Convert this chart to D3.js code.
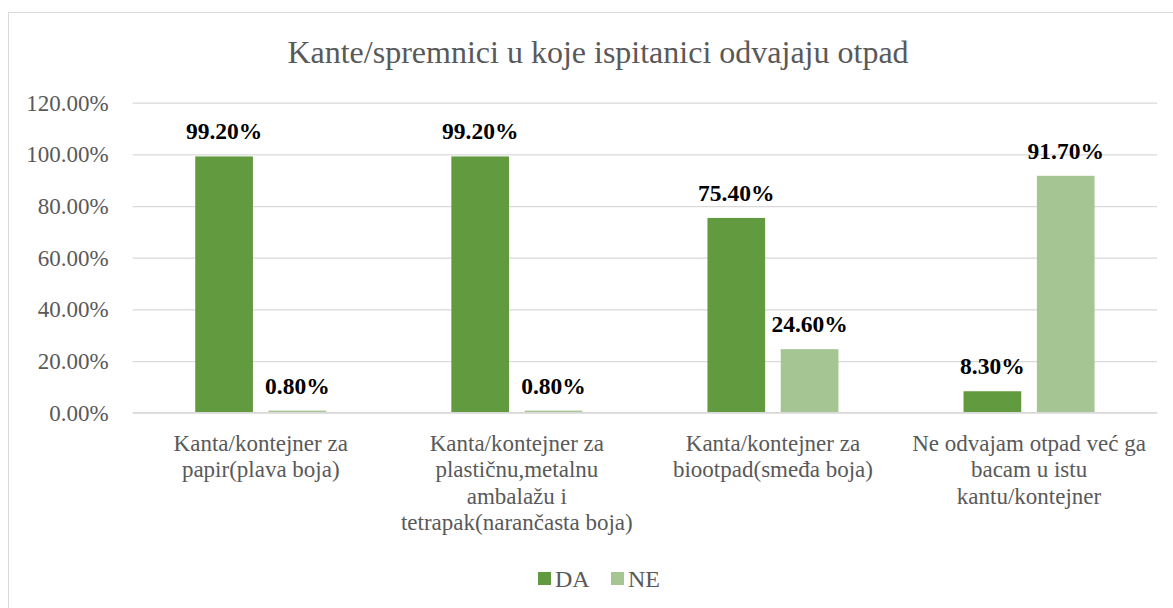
<!DOCTYPE html>
<html>
<head>
<meta charset="utf-8">
<script src="https://cdn.jsdelivr.net/npm/d3@7"></script>
</head>
<body style="margin:0; background:#fff">
<div id="chart"></div>
<script>
// data
const categories = [
  "Kanta/kontejner za\npapir(plava boja)",
  "Kanta/kontejner za\nplastičnu,metalnu\nambalažu i\ntetrapak(narančasta boja)",
  "Kanta/kontejner za\nbiootpad(smeđa boja)",
  "Ne odvajam otpad već ga\nbacam u istu\nkantu/kontejner"
]
const seriesNames = ["DA", "NE"]
const daValues = [99.2, 99.2, 75.4, 8.3]
const neValues = [0.8, 0.8, 24.6, 91.7]
const yTicks = [0, 20, 40, 60, 80, 100, 120]
const colors = ["#629a3f", "#a5c592"]

const FONT = "Liberation Serif"
const width = 1173, height = 608
const plot = { left: 132.7, right: 1157.1, top: 102.7, bottom: 412.7 }

const svg = d3.select("#chart").append("svg")
    .attr("width", width)
    .attr("height", height)

// outer frame (runs off the right/bottom edge like the source)
svg.append("rect")
    .attr("x", 8.5).attr("y", 12.5)
    .attr("width", 1200).attr("height", 640)
    .attr("fill", "#fff")
    .attr("stroke", "#d9d9d9")
    .attr("stroke-width", 1)

svg.append("text")
    .attr("x", 598).attr("y", 63)
    .attr("text-anchor", "middle")
    .style("font-family", FONT)
    .style("font-size", "32px")
    .style("fill", "#595959")
    .text("Kante/spremnici u koje ispitanici odvajaju otpad")

const y = d3.scaleLinear().domain([0, 120]).range([plot.bottom, plot.top])
const x0 = d3.scaleBand().domain(d3.range(categories.length)).range([plot.left, plot.right])
const x1 = d3.scaleBand().domain(seriesNames).range([0, x0.bandwidth()])
    .paddingInner(0.213).paddingOuter(0.853)

// gridlines + y labels
const yAxis = svg.append("g")
    .attr("transform", `translate(${plot.left},0)`)
    .call(d3.axisLeft(y).tickValues(yTicks)
        .tickSize(-(plot.right - plot.left))
        .tickPadding(24)
        .tickFormat(d => d.toFixed(2) + "%"))
yAxis.select(".domain").remove()
yAxis.selectAll(".tick line").attr("stroke", "#d9d9d9").attr("stroke-width", 1.3)
yAxis.selectAll(".tick text")
    .style("font-family", FONT)
    .style("font-size", "23px")
    .style("fill", "#595959")

const rows = categories.map((c, i) => ({ i, vals: [daValues[i], neValues[i]] }))

const groups = svg.append("g").selectAll("g")
    .data(rows).enter().append("g")
    .attr("transform", d => `translate(${x0(d.i)},0)`)

groups.selectAll("rect")
    .data(d => d.vals.map((v, k) => ({ key: seriesNames[k], v, k })))
    .enter().append("rect")
    .attr("x", d => x1(d.key))
    .attr("y", d => y(d.v))
    .attr("width", x1.bandwidth())
    .attr("height", d => y(0) - y(d.v))
    .attr("fill", d => colors[d.k])

groups.selectAll("text.val")
    .data(d => d.vals.map((v, k) => ({ key: seriesNames[k], v, k })))
    .enter().append("text")
    .attr("class", "val")
    .attr("x", d => x1(d.key) + x1.bandwidth() / 2)
    .attr("y", d => y(d.v) - 17)
    .attr("text-anchor", "middle")
    .style("font-family", FONT)
    .style("font-size", "23.5px")
    .style("font-weight", "bold")
    .style("fill", "#000")
    .text(d => d.v.toFixed(2) + "%")

// x axis line
svg.append("line")
    .attr("x1", plot.left).attr("x2", plot.right)
    .attr("y1", y(0)).attr("y2", y(0))
    .attr("stroke", "#d9d9d9").attr("stroke-width", 1.3)

// category labels, wrapped as in the source
categories.forEach((c, i) => {
    const t = svg.append("text")
        .attr("text-anchor", "middle")
        .style("font-family", FONT)
        .style("font-size", "23px")
        .style("fill", "#595959")
    c.split("\n").forEach((line, j) => {
        t.append("tspan")
            .attr("x", x0(i) + x0.bandwidth() / 2)
            .attr("y", 451 + j * 26.3)
            .text(line)
    })
})

// legend
const legend = svg.append("g")
const legX = [538, 611]
seriesNames.forEach((s, k) => {
    legend.append("rect")
        .attr("x", legX[k]).attr("y", 572)
        .attr("width", 13).attr("height", 13)
        .attr("fill", colors[k])
    legend.append("text")
        .attr("x", legX[k] + 17).attr("y", 587)
        .style("font-family", FONT)
        .style("font-size", "24px")
        .style("fill", "#595959")
        .text(s)
})
</script>
</body>
</html>
